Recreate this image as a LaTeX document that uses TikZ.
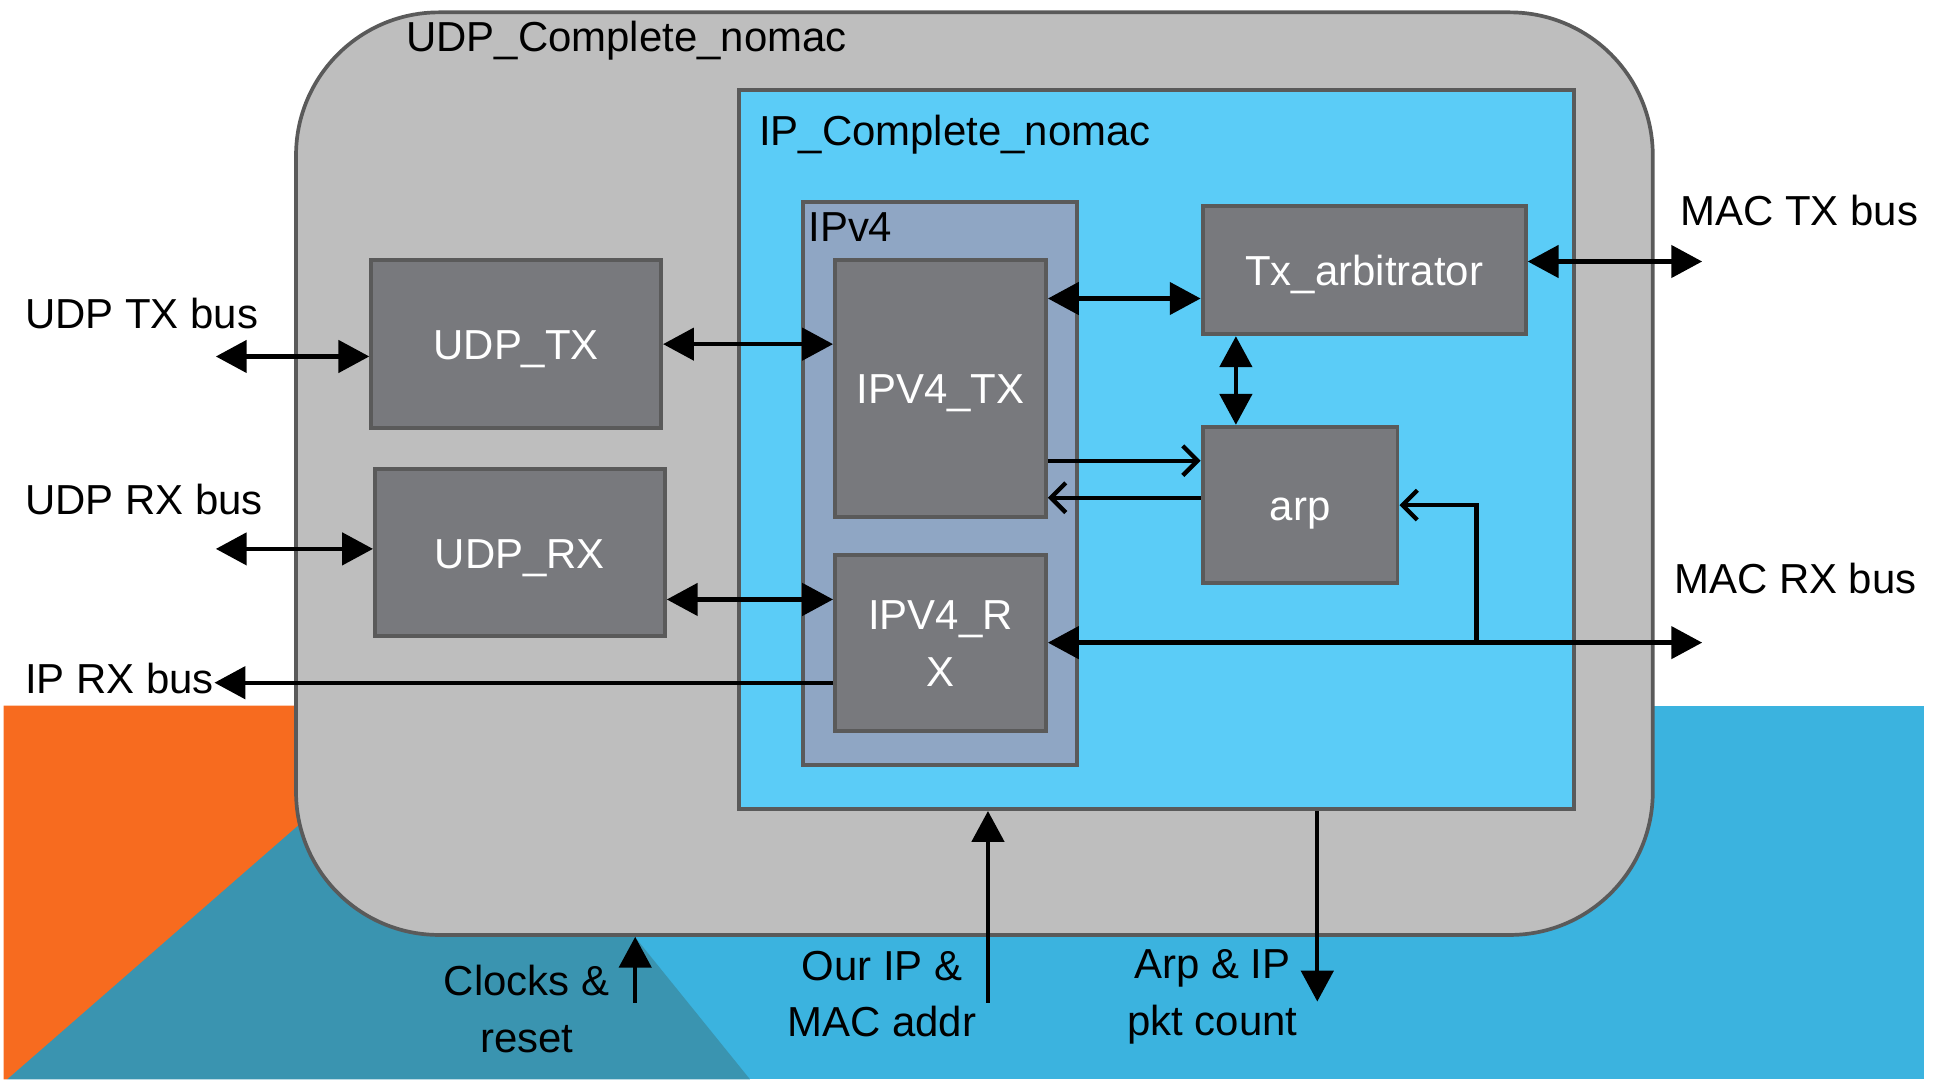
\documentclass[tikz,border=0pt]{standalone}
\usepackage{fontspec}
\setmainfont{Liberation Sans}
\usepackage{xcolor}
\usepackage{tikz}
\usetikzlibrary{fit, arrows.meta}
\definecolor{udpgray}{HTML}{BEBEBE}
\definecolor{linegray}{HTML}{5A5A5A}
\definecolor{ipcyan}{HTML}{5BCCF7}
\definecolor{ipvblue}{HTML}{8FA6C4}
\definecolor{blockgray}{HTML}{78797D}
\definecolor{bgorange}{HTML}{F76B1F}
\definecolor{bgteal}{HTML}{3A94B0}
\definecolor{bgblue}{HTML}{3BB3DF}
\tikzstyle{arrow}     = [line width=1.75pt,-{Triangle[length=12.5pt,width=13pt]}]
\tikzstyle{biarrow}   = [line width=1.75pt,{Triangle[length=12.5pt,width=13pt]}-{Triangle[length=12.5pt,width=13pt]}]
\tikzstyle{openarrow} = [line width=1.75pt,-{Straight Barb[length=6pt,width=12pt]}]

\begin{document}
\begin{tikzpicture}[
    x=0.5pt, y=-0.5pt,
    font=\fontsize{17}{23}\selectfont,
    block/.style={draw=linegray, line width=1.6pt, fill=blockgray, text=white, inner sep=0pt},
    onerow/.style={text height=12.5pt, text depth=0pt},
    container/.style={draw=linegray, line width=1.5pt, inner sep=0pt},
    tlabel/.style={anchor=base west, inner sep=0pt},
    blabel/.style={align=center, inner sep=0pt},
  ]
  \useasboundingbox (0,0) rectangle (1568,875);
  % background
  \fill[bgblue] (3,572) rectangle (1560,875);
  \fill[bgorange] (3,572) -- (362,572) -- (6,875) -- (3,875) -- cycle;
  \fill[bgteal] (6,875) -- (359,567) -- (608,875) -- cycle;

  % containers
  \node[container, fill=udpgray, rounded corners=58pt, fit={(240,10) (1340,758)}] (udp) {};
  \node[container, fill=ipcyan, fit={(599,73) (1276,656)}] (ipc) {};
  \node[container, fill=ipvblue, fit={(651,164) (873,620)}] (ipv4) {};
  \node[tlabel] (udplabel) at (329,42) {UDP\_Complete\_nomac};
  \node[tlabel] (ipclabel) at (615,118) {IP\_Complete\_nomac};
  \node[tlabel] (ipv4label) at (655,196) {IPv4};

  % blocks
  \node[block, onerow, minimum width=117.5pt, minimum height=68pt] (udptx) at (418.5,279) {UDP\_TX};
  \node[block, onerow, minimum width=117.5pt, minimum height=68pt] (udprx) at (421.5,448) {UDP\_RX};
  \node[block, onerow, minimum width=85.5pt, minimum height=104pt] (ipv4tx) at (762.5,315) {IPV4\_TX};
  \node[block, minimum width=85.5pt, minimum height=71.5pt, align=center] (ipv4rx) at (762.5,521.5) {IPV4\_R\\X};
  \node[block, onerow, minimum width=131pt, minimum height=52pt] (txarb) at (1106,219) {Tx\_arbitrator};
  \node[block, onerow, minimum width=79pt, minimum height=63.5pt] (arp) at (1054,409.5) {arp};

  % outside labels
  \node[tlabel] (udptxbus) at (20,266) {UDP TX bus};
  \node[tlabel] (udprxbus) at (20,417) {UDP RX bus};
  \node[tlabel] (iprxbus) at (20,562) {IP RX bus};
  \node[tlabel] (mactxbus) at (1362,183) {MAC TX bus};
  \node[tlabel] (macrxbus) at (1357,481) {MAC RX bus};
  \node[blabel] (clklabel) at (427,818) {Clocks \&\\reset};
  \node[blabel] (ourlabel) at (715,806) {Our IP \&\\MAC addr};
  \node[blabel] (cntlabel) at (983,808) {Arp \& IP\\pkt count};

  \coordinate (udptxend) at (175,289);
  \coordinate (udprxend) at (175,445);
  \coordinate (mactxend) at (1380,212);
  \coordinate (macrxend) at (1380,521);
  \coordinate (branch) at (1197,521);
  \coordinate (clkend) at (515,813);
  \coordinate (ourend) at (801,813);
  \coordinate (cntend) at (1068,812);

  % connectors
  \draw[biarrow] (udptxend) -- (udptxend -| udptx.west);
  \draw[biarrow] (udprxend) -- (udprxend -| udprx.west);
  \draw[biarrow] (udptx.east) -- (udptx.east -| ipv4tx.west);
  \draw[biarrow] ([yshift=-19pt]udprx.east) -- ([yshift=-19pt]udprx.east -| ipv4rx.west);
  \draw[arrow] ([yshift=-16pt]ipv4rx.west) -- ([yshift=-16pt]ipv4rx.west -| iprxbus.east);
  \draw[biarrow] ([yshift=-11.5pt]txarb.west -| ipv4tx.east) -- ([yshift=-11.5pt]txarb.west);
  \draw[biarrow] (mactxend -| txarb.east) -- (mactxend);
  \draw[biarrow] ([xshift=-26pt]arp.north |- txarb.south) -- ([xshift=-26pt]arp.north);
  \draw[openarrow] ([yshift=18pt]arp.west -| ipv4tx.east) -- ([yshift=18pt]arp.west);
  \draw[openarrow] ([yshift=3pt]arp.west) -- ([yshift=3pt]arp.west -| ipv4tx.east);
  \draw[biarrow] (macrxend -| ipv4rx.east) -- (macrxend);
  \draw[openarrow] (branch) |- (arp.east);
  \draw[arrow] (clkend) -- (clkend |- udp.south);
  \draw[arrow] (ourend) -- (ourend |- ipc.south);
  \draw[arrow] (cntend |- ipc.south) -- (cntend);
\end{tikzpicture}
\end{document}
